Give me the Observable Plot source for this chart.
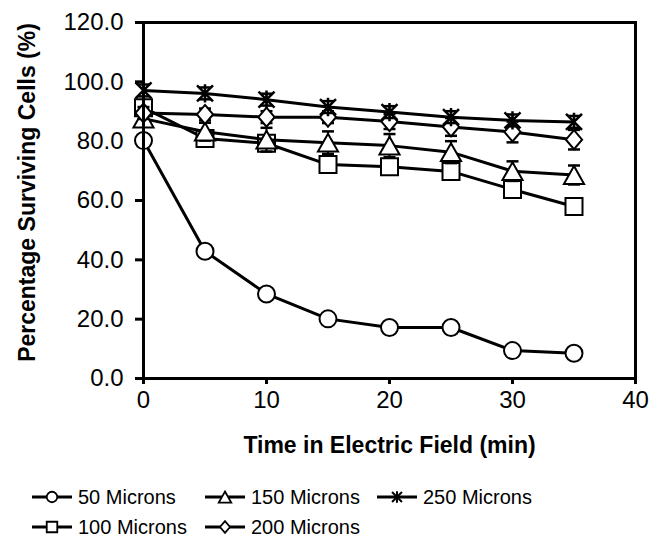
<!DOCTYPE html>
<html><head><meta charset="utf-8">
<script src="https://cdn.jsdelivr.net/npm/d3@7"></script>
<script src="https://cdn.jsdelivr.net/npm/@observablehq/plot@0.6"></script>
<style>
body{margin:0;background:#fff;font-family:"Liberation Sans",Arial,sans-serif;}
#chart svg{display:block;}
#legend{position:relative;height:72px;width:662px;}
.item{position:absolute;display:flex;align-items:center;font-size:20px;color:#000;height:30px;white-space:nowrap;}
.item svg{margin-right:6px;}
</style></head><body><div id="chart"></div><div id="legend"></div>
<script>
// ---- data ----
const times = [0, 5, 10, 15, 20, 25, 30, 35];
const seriesNames = ["50 Microns", "100 Microns", "150 Microns", "200 Microns", "250 Microns"];
const s50  = [80.2, 42.9, 28.5, 20.1, 17.2, 17.2, 9.4, 8.5];
const s100 = [91.3, 80.9, 79.3, 72.1, 71.4, 69.8, 63.7, 58.0];
const s150 = [87.6, 83.2, 80.5, 79.5, 78.5, 76.3, 69.9, 68.6];
const s200 = [89.5, 89.0, 88.1, 88.1, 86.6, 84.8, 83.1, 80.5];
const s250 = [97.1, 96.1, 94.0, 91.5, 89.8, 88.1, 87.0, 86.5];
const err50  = [1.5, 1.5, 1.5, 1.5, 1.5, 1.5, 1.5, 1.5];
const err100 = [2.0, 2.0, 2.0, 2.0, 2.0, 2.0, 2.0, 2.0];
const err150 = [2.5, 3.0, 4.0, 3.8, 3.9, 3.7, 3.3, 3.2];
const err200 = [2.0, 2.0, 2.0, 2.0, 2.5, 3.0, 3.5, 3.3];
const err250 = [2.0, 2.0, 2.0, 2.0, 2.0, 2.0, 2.0, 2.0];
const yTicks = [0, 20, 40, 60, 80, 100, 120];
const xTicks = [0, 10, 20, 30, 40];
const xTitle = "Time in Electric Field (min)";
const yTitle = "Percentage Surviving Cells (%)";

// ---- custom symbols (size = side^2) ----
const symCircle = {draw(c, size){ const r = Math.sqrt(size)/2; c.moveTo(r,0); c.arc(0,0,r,0,2*Math.PI); }};
const symSquare = {draw(c, size){ const h = Math.sqrt(size)/2; c.rect(-h,-h,2*h,2*h); }};
const symTriangle = {draw(c, size){ const s = Math.sqrt(size); const w = s*0.53, ht = s*0.47; c.moveTo(0,-ht); c.lineTo(w,ht); c.lineTo(-w,ht); c.closePath(); }};
const symDiamond = {draw(c, size){ const s = Math.sqrt(size); const w = s*0.45, ht = s*0.53; c.moveTo(0,-ht); c.lineTo(w,0); c.lineTo(0,ht); c.lineTo(-w,0); c.closePath(); }};
const symStar = {draw(c, size){ const h = Math.sqrt(size)/2; c.moveTo(-h,-h); c.lineTo(h,h); c.moveTo(h,-h); c.lineTo(-h,h); c.moveTo(0,-h*1.15); c.lineTo(0,h*1.15); }};
const symCap = {draw(c, size){ const h = Math.sqrt(size)/2; c.moveTo(-h,0); c.lineTo(h,0); }};

const values = [s50, s100, s150, s200, s250];
const errs = [err50, err100, err150, err200, err250];
const symbols = [symCircle, symSquare, symTriangle, symDiamond, symStar];
const sides = [17, 17, 19, 18, 16];
const rOf = s => s / Math.sqrt(Math.PI);

const series = seriesNames.map((name, i) => times.map((t, j) => ({name, t, v: values[i][j], e: errs[i][j]})));

const marks = [];
series.forEach((data, i) => {
  marks.push(Plot.line(data, {x: "t", y: "v", stroke: "black", strokeWidth: 3}));
  marks.push(Plot.ruleX(data, {x: "t", y1: d => d.v - d.e, y2: d => d.v + d.e, stroke: "black", strokeWidth: 2}));
  marks.push(Plot.dot(data, {x: "t", y: d => d.v + d.e, symbol: symCap, r: rOf(12), stroke: "black", strokeWidth: 2.5}));
  marks.push(Plot.dot(data, {x: "t", y: d => d.v - d.e, symbol: symCap, r: rOf(12), stroke: "black", strokeWidth: 2.5}));
  const star = symbols[i] === symStar;
  marks.push(Plot.dot(data, {x: "t", y: "v", symbol: symbols[i], r: rOf(sides[i]), stroke: "black", strokeWidth: star ? 2.5 : 2, fill: star ? "none" : "white"}));
});

const chart = Plot.plot({
  width: 662,
  height: 470,
  marginLeft: 143,
  marginRight: 27,
  marginTop: 22,
  marginBottom: 92,
  style: {fontFamily: "'Liberation Sans', Arial, sans-serif", background: "white", color: "black"},
  x: {domain: [0, 40], ticks: xTicks},
  y: {domain: [0, 120], ticks: yTicks},
  marks: [
    Plot.axisX({ticks: xTicks, tickSize: 6, tickPadding: 6, tickFormat: d3.format("d"), fontSize: 24, strokeWidth: 3, label: null}),
    Plot.axisY({ticks: yTicks, tickSize: 8, tickPadding: 12, tickFormat: d3.format(".1f"), fontSize: 24, strokeWidth: 3, label: null}),
    ...marks,
    Plot.frame({stroke: "black", strokeWidth: 3}),
    Plot.text([xTitle], {text: d => d, frameAnchor: "bottom", dy: 74, fontSize: 23, fontWeight: "bold", fill: "black"}),
    Plot.text([yTitle], {text: d => d, frameAnchor: "left", textAnchor: "middle", rotate: -90, dx: -116, dy: -8, fontSize: 23, fontWeight: "bold", fill: "black"})
  ]
});
document.getElementById("chart").appendChild(chart);

// ---- legend ----
const legendPos = [[32, 482], [32, 512], [205, 482], [205, 512], [377, 482]];
const legend = d3.select("#legend");
seriesNames.forEach((name, i) => {
  const item = legend.append("div").attr("class", "item").style("left", legendPos[i][0] + "px").style("top", (legendPos[i][1] - 470) + "px");
  const svg = item.append("svg").attr("width", 40).attr("height", 30);
  svg.append("line").attr("x1", 0).attr("x2", 40).attr("y1", 15).attr("y2", 15).attr("stroke", "black").attr("stroke-width", 3);
  const star = symbols[i] === symStar;
  svg.append("path").attr("transform", "translate(20,15)")
    .attr("d", d3.symbol(symbols[i], Math.pow(sides[i] * 0.62, 2))())
    .attr("stroke", "black").attr("stroke-width", star ? 2 : 1.8).attr("fill", star ? "none" : "white");
  item.append("span").text(name);
});
</script></body></html>
